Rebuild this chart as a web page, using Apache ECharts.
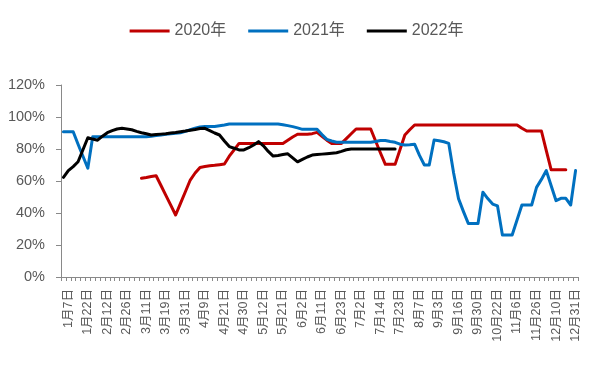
<!DOCTYPE html>
<html>
<head>
<meta charset="utf-8">
<script src="https://cdn.jsdelivr.net/npm/echarts@6/dist/echarts.min.js"></script>
<style>html,body{margin:0;padding:0;background:#fff}#c{width:593px;height:373px}</style>
</head>
<body>
<div id="c"></div>
<script>
// Tick labels shown on the category axis (every 4th category, starting at the 2nd)
const tickDates = ['1月7日','1月22日','2月12日','2月26日','3月11日','3月19日','3月31日','4月9日','4月21日','4月30日','5月12日','5月21日','6月2日','6月11日','6月23日','7月2日','7月14日','7月23日','8月7日','9月3日','9月16日','9月30日','10月22日','11月6日','11月26日','12月10日','12月31日'];
const categoryCount = 106;
const yTicks = [0, 20, 40, 60, 80, 100, 120];
const seriesNames = ['2020年', '2021年', '2022年'];

const s2020 = [null,null,null,null,null,null,null,null,null,null,null,null,null,null,null,null,
  61.7,62.2,62.8,63.3,57.2,51,44.9,38.75,46,53.3,60.6,65,68.5,69,69.5,69.8,70.2,70.6,75.5,79.5,
  83.5,83.5,83.5,83.5,83.5,83.5,83.5,83.5,83.5,83.5,85.5,87.5,89.2,89.2,89.2,89.6,90.4,88,85.5,83.5,
  83.5,83.5,86.5,89.5,92.5,92.5,92.5,92.5,85,77.5,70.4,70.4,70.4,79.5,88.75,92,95,
  95,95,95,95,95,95,95,95,95,95,95,95,95,95,95,95,95,95,95,95,95,
  93,91.25,91.25,91.25,91.25,79,67,67,67,67,null,null];

const s2021 = [90.8,90.8,90.8,83,75.5,68,87.7,87.7,87.7,87.7,87.7,87.7,87.7,87.7,87.7,87.7,87.7,87.7,
  88,88.4,88.8,89.2,89.5,89.8,90.2,91,92,93,93.8,94,94,94,94.5,95,
  95.6,95.6,95.6,95.6,95.6,95.6,95.6,95.6,95.6,95.6,95.6,95.2,94.6,94,93.2,92.3,92.3,92.3,92.3,89,86,85,
  84.2,84.2,84.2,84.2,84.2,84.2,84.2,84.2,84.7,85.3,85.3,84.7,84.2,83,82.5,82.7,83,76,70,70,
  85.6,85.2,84.5,83.5,65,49,41,33.5,33.5,33.5,53,49,45.6,44.4,26.2,26.2,26.2,35.6,45,45,45,
  56,61,66.5,57,47.7,49.2,49.2,45,66.5];

const s2022 = [62.3,66.5,69,72,79.5,87,86.2,85.5,88,90.2,91.5,92.5,92.9,92.5,92,91,90.2,89.5,88.75,
  89,89.3,89.6,90,90.3,90.8,91.2,91.7,92.2,92.8,92.9,91.5,90,88.75,85,81.5,80.5,79.4,79.4,80.8,82.5,
  84.6,82,78.5,75.6,76,76.5,77,74.5,72,73.5,75,76.2,76.5,76.8,77.1,77.4,77.7,78.5,79.5,
  80,80,80,80,80,80,80,80,80,80];

const categories = [];
for (let i = 0; i < categoryCount; i++) {
  categories.push((i - 1) % 4 === 0 ? tickDates[(i - 1) / 4] : '');
}

const colors = ['#C00000', '#0070C0', '#000000'];
const font = '"Liberation Sans", "Noto Sans CJK SC", sans-serif';
const chart = echarts.init(document.getElementById('c'), null, {renderer: 'canvas'});
const mk = (name, data, color) => ({
  name, type: 'line', data, symbol: 'none', connectNulls: false, animation: false,
  lineStyle: {width: 3, color, cap: 'round', join: 'round'}, itemStyle: {color}
});
chart.setOption({
  animation: false,
  color: colors,
  legend: {
    top: 18, left: 'center', itemWidth: 40, itemHeight: 3, itemGap: 22, icon: 'rect',
    textStyle: {fontFamily: font, fontSize: 16, color: '#595959'},
    data: seriesNames
  },
  grid: {left: 61, right: 15, top: 85, bottom: 96, containLabel: false, outerBoundsMode: 'none'},
  xAxis: {
    type: 'category', data: categories, boundaryGap: true,
    axisLine: {lineStyle: {color: '#898989', width: 1}},
    axisTick: {show: true, interval: 0, length: 4, lineStyle: {color: '#898989'}},
    axisLabel: {interval: 0, rotate: 90, margin: 12, fontFamily: font, fontSize: 12.5, color: '#595959'},
    splitLine: {show: false}
  },
  yAxis: {
    type: 'value', min: yTicks[0], max: yTicks[yTicks.length - 1], interval: 20,
    axisLine: {show: true, lineStyle: {color: '#898989', width: 1}},
    axisTick: {show: true, length: 5, lineStyle: {color: '#898989'}},
    axisLabel: {formatter: '{value}%', margin: 16, fontFamily: font, fontSize: 14.5, color: '#595959'},
    splitLine: {show: false}
  },
  series: [mk(seriesNames[0], s2020, colors[0]), mk(seriesNames[1], s2021, colors[1]), mk(seriesNames[2], s2022, colors[2])]
});
</script>
</body>
</html>
